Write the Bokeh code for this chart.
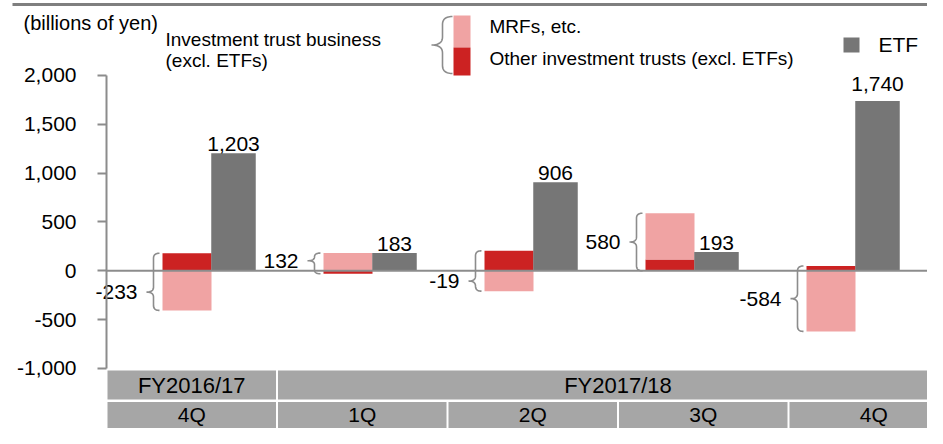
import numpy as np
from bokeh.plotting import figure
from bokeh.models import Range1d, FixedTicker, NumeralTickFormatter
from bokeh.core.properties import value
from bokeh.embed import file_html
from bokeh.resources import INLINE

# ---------------- data ----------------
fiscal_years = ["FY2016/17", "FY2017/18"]
fy_quarter_count = [1, 4]
quarters = ["4Q", "1Q", "2Q", "3Q", "4Q"]
mrfs = [-405, 182, -208, 475, -620]          # MRFs, etc.
other_trusts = [180, -30, 205, 115, 50]       # Other investment trusts (excl. ETFs)
etf = [1203, 183, 906, 193, 1740]             # ETF
trust_totals = [-233, 132, -19, 580, -584]    # Investment trust business (excl. ETFs)
y_ticks = [-1000, -500, 0, 500, 1000, 1500, 2000]

# ---------------- style ----------------
FONT = "Liberation Sans"
PINK = "#F0A3A3"
RED = "#CC2222"
GREY_BAR = "#767676"
GREY_LINE = "#8C8C8C"
CELL = "#A6A6A6"
tip_fraction = [0.68, 0.37, 0.75, 0.5, 0.5]
etf_label_offset = [-9, -9, -9, -9, -17]

W, H = 927, 428
PX_PER_GROUP = 161.0
GROUP0_PX = 186.5
AXIS_PX = 106.0
ZERO_PX = 270.33
UNITS_PER_PX = 3000.0 / 293.0

X_START = (0 - GROUP0_PX) / PX_PER_GROUP
X_END = (W - GROUP0_PX) / PX_PER_GROUP
Y_END = ZERO_PX * UNITS_PER_PX
Y_START = Y_END - H * UNITS_PER_PX


def dx(px):
    return (px - GROUP0_PX) / PX_PER_GROUP


def dy(py):
    return (ZERO_PX - py) * UNITS_PER_PX


def py_of(v):
    return ZERO_PX - v / UNITS_PER_PX


p = figure(width=W, height=H, x_range=Range1d(X_START, X_END),
           y_range=Range1d(Y_START, Y_END), output_backend="svg",
           toolbar_location=None, tools="", min_border=0, title=None)
p.outline_line_color = None
p.grid.visible = False
p.xaxis.visible = False
p.background_fill_color = "white"
p.border_fill_color = "white"

yax = p.yaxis[0]
yax.fixed_location = dx(AXIS_PX)
yax.bounds = (min(y_ticks), max(y_ticks))
yax.ticker = FixedTicker(ticks=y_ticks)
yax.formatter = NumeralTickFormatter(format="0,0")
yax.axis_line_color = GREY_LINE
yax.axis_line_width = 2
yax.major_tick_line_color = GREY_LINE
yax.major_tick_line_width = 2
yax.major_tick_out = 9
yax.major_tick_in = 0
yax.minor_tick_line_color = None
yax.major_label_standoff = 21
yax.major_label_text_font = FONT
yax.major_label_text_font_size = "21px"
yax.major_label_text_color = "black"

n = len(quarters)
idx = np.arange(n, dtype=float)

# ---------------- top rule ----------------
p.quad(left=[dx(12)], right=[dx(W)], top=[dy(2.5)], bottom=[dy(5.5)],
       fill_color="#7F7F7F", line_color=None)

# ---------------- table below ----------------
row1 = (370, 399)
row2 = (401.5, 428)
col_left = [107 + 170.5 * i for i in range(n)]
col_right = [c + 168.5 for c in col_left]
p.quad(left=[dx(c) for c in col_left], right=[dx(c) for c in col_right],
       top=[dy(row2[0])] * n, bottom=[dy(row2[1])] * n,
       fill_color=CELL, line_color=None)
p.text(x=[dx((a + b) / 2) for a, b in zip(col_left, col_right)],
       y=[dy((row2[0] + row2[1]) / 2 - 0.5)] * n, text=quarters,
       text_font=value(FONT), text_font_size=value("21px"),
       text_align="center", text_baseline="middle", text_color="black")
fy_l, fy_r = [], []
start = 0
for c in fy_quarter_count:
    fy_l.append(col_left[start])
    fy_r.append(col_right[start + c - 1])
    start += c
p.quad(left=[dx(a) for a in fy_l], right=[dx(b) for b in fy_r],
       top=[dy(row1[0])] * len(fy_l), bottom=[dy(row1[1])] * len(fy_l),
       fill_color=CELL, line_color=None)
p.text(x=[dx((a + b) / 2) for a, b in zip(fy_l, fy_r)],
       y=[dy((row1[0] + row1[1]) / 2 + 0.5)] * len(fy_l), text=fiscal_years,
       text_font=value(FONT), text_font_size=value("22px"),
       text_align="center", text_baseline="middle", text_color="black")

# ---------------- bars ----------------
TRUST_W = 49.0 / PX_PER_GROUP
ETF_OFF = 46.5 / PX_PER_GROUP
ETF_W = 44.5 / PX_PER_GROUP

pos = np.zeros(n)
neg = np.zeros(n)
for series, color in ((other_trusts, RED), (mrfs, PINK)):
    v = np.array(series, dtype=float)
    bottom = np.where(v >= 0, pos, neg)
    top = bottom + v
    pos = np.where(v >= 0, pos + v, pos)
    neg = np.where(v < 0, neg + v, neg)
    p.vbar(x=idx, width=TRUST_W, top=top, bottom=bottom,
           fill_color=color, line_color=None)

p.vbar(x=idx + ETF_OFF, width=ETF_W, top=etf, bottom=0,
       fill_color=GREY_BAR, line_color=None)

# zero line
p.segment(x0=[dx(AXIS_PX)], y0=[0], x1=[X_END], y1=[0],
          line_color=GREY_LINE, line_width=2)

for i in range(n):
    p.text(x=[idx[i] + ETF_OFF], y=[etf[i]], text=["{:,}".format(etf[i])],
           text_font=value(FONT), text_font_size=value("21px"),
           text_align="center", text_baseline="alphabetic",
           y_offset=etf_label_offset[i], text_color="black")


# ---------------- braces ----------------
def qbez(p0, p1, p2, m=14):
    t = np.linspace(0, 1, m)
    xs = (1 - t) ** 2 * p0[0] + 2 * (1 - t) * t * p1[0] + t ** 2 * p2[0]
    ys = (1 - t) ** 2 * p0[1] + 2 * (1 - t) * t * p1[1] + t ** 2 * p2[1]
    return list(xs), list(ys)


def brace_px(xr, top, bot, tip, arm=6.0, depth=13.0, r=5.0):
    xv = xr - arm
    xt = xr - depth
    r = max(1.0, min(r, (tip - top) / 2.0, (bot - tip) / 2.0))
    xs, ys = [], []
    for seg in (qbez((xr, top), (xv, top), (xv, top + r)),
                ([xv, xv], [top + r, tip - r]),
                qbez((xv, tip - r), (xv, tip), (xt, tip)),
                qbez((xt, tip), (xv, tip), (xv, tip + r)),
                ([xv, xv], [tip + r, bot - r]),
                qbez((xv, bot - r), (xv, bot), (xr, bot))):
        xs += list(seg[0])
        ys += list(seg[1])
    return [dx(x) for x in xs], [dy(y) for y in ys], xt


bx, by, lx, ly = [], [], [], []
for i in range(n):
    bar_left_px = GROUP0_PX + PX_PER_GROUP * i - 24.5
    top_px = py_of(max(pos[i], 0))
    bot_px = py_of(min(neg[i], 0))
    tip_px = top_px + tip_fraction[i] * (bot_px - top_px)
    xs, ys, xt = brace_px(bar_left_px - 3, top_px, bot_px, tip_px)
    bx.append(xs)
    by.append(ys)
    lx.append(dx(xt - 9))
    ly.append(dy(tip_px))

p.multi_line(xs=bx, ys=by, line_color=GREY_LINE, line_width=1.6)
p.text(x=lx, y=ly, text=["{:,}".format(v) for v in trust_totals],
       text_font=value(FONT), text_font_size=value("21px"),
       text_align="right", text_baseline="middle", text_color="black")

# ---------------- legend / headers ----------------
p.text(x=[dx(23)], y=[dy(22)], text=["(billions of yen)"],
       text_font=value(FONT), text_font_size=value("20px"),
       text_align="left", text_baseline="middle", text_color="black")
p.text(x=[dx(165), dx(165)], y=[dy(39), dy(59.5)],
       text=["Investment trust business", "(excl. ETFs)"],
       text_font=value(FONT), text_font_size=value("19px"),
       text_align="left", text_baseline="middle", text_color="black")

lxs, lys, _ = brace_px(452, 16, 73, 44.5, arm=10.0, depth=21.0, r=8.0)
p.multi_line(xs=[lxs], ys=[lys], line_color=GREY_LINE, line_width=1.6)
p.quad(left=[dx(453)] * 2, right=[dx(470)] * 2,
       top=[dy(15), dy(47)], bottom=[dy(47), dy(75)],
       fill_color=[PINK, RED], line_color=None)
p.text(x=[dx(489), dx(489)], y=[dy(26), dy(58)],
       text=["MRFs, etc.", "Other investment trusts (excl. ETFs)"],
       text_font=value(FONT), text_font_size=value("19px"),
       text_align="left", text_baseline="middle", text_color="black")

p.quad(left=[dx(843)], right=[dx(859)], top=[dy(37)], bottom=[dy(52)],
       fill_color=GREY_BAR, line_color=None)
p.text(x=[dx(878)], y=[dy(44)], text=["ETF"],
       text_font=value(FONT), text_font_size=value("21px"),
       text_align="left", text_baseline="middle", text_color="black")

open("out.html", "w").write(file_html(p, INLINE))
